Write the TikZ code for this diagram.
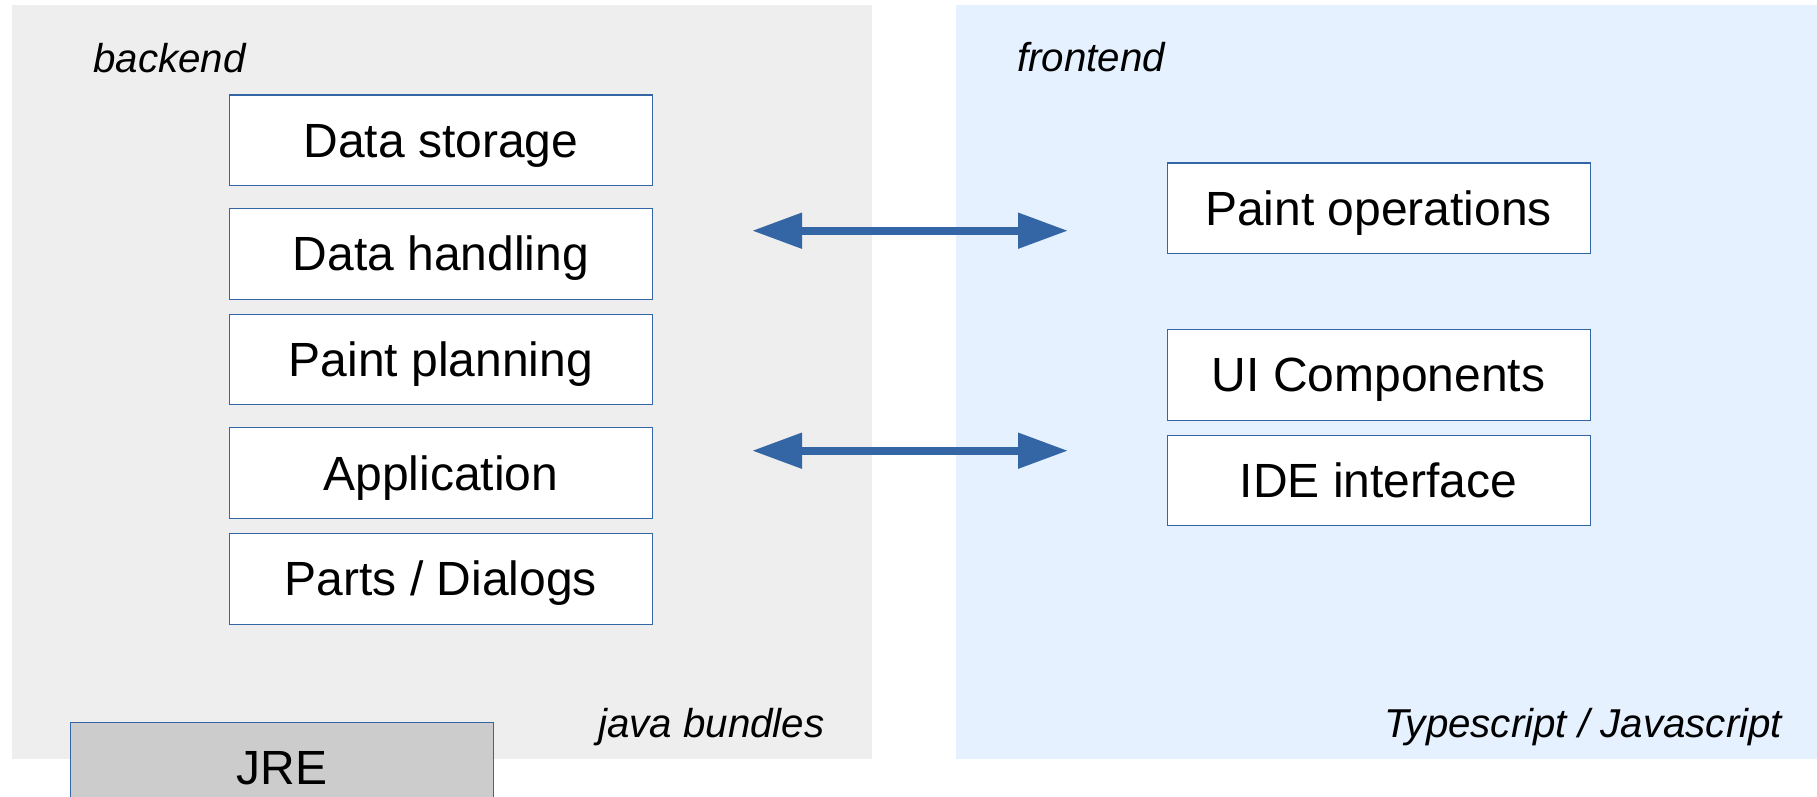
\documentclass[tikz,border=0pt]{standalone}
\usepackage{fontspec}
\setmainfont{Liberation Sans}
\usetikzlibrary{arrows.meta}
\definecolor{backfill}{HTML}{EEEEEE}
\definecolor{frontfill}{HTML}{E5F1FF}
\definecolor{lblue}{HTML}{3465A4}
\definecolor{jregray}{HTML}{CCCCCC}
\tikzset{
  panel/.style={fill=#1, draw=none},
  layerbox/.style={draw=lblue, line width=1.1pt, fill=white, minimum width=423pt, minimum height=90.7pt,
    inner sep=0pt, font=\fontsize{48}{57}\selectfont, text height=34.3pt, text depth=0pt},
  jrebox/.style={layerbox, fill=jregray},
  sidelabel/.style={font=\fontsize{40.3}{48}\selectfont\itshape, inner sep=0pt, anchor=base west},
  dblarrow/.style={draw=lblue, line width=8pt, {Triangle[length=50pt,width=34pt]}-{Triangle[length=50pt,width=34pt]}}
}
\begin{document}
\begin{tikzpicture}[x=1pt,y=-1pt]
\useasboundingbox (0,0) rectangle (1817,796);
\fill[white] (0,0) rectangle (1817,796);
% panels
\path[panel=backfill] (11.6,4.7) rectangle (872,759);
\path[panel=frontfill] (956,4.7) rectangle (1817,759);
% side labels
\node[sidelabel] (lbback) at (93,72) {backend};
\node[sidelabel] (lbfront) at (1017,71) {frontend};
\node[sidelabel] (lbjava) at (598,737) {java bundles};
\node[sidelabel] (lbts) at (1384,737) {Typescript / Javascript};
% backend boxes
\node[layerbox] (ds) at (441,140.3) {Data storage};
\node[layerbox] (dh) at (441,253.7) {Data handling};
\node[layerbox] (pp) at (441,359.5) {Paint planning};
\node[layerbox] (app) at (441,473) {Application};
\node[layerbox] (pd) at (441,578.8) {Parts / Dialogs};
\node[jrebox] (jre) at (282,767.5) {JRE};
% frontend boxes
\node[layerbox] (po) at (1378.6,208.3) {Paint operations};
\node[layerbox] (ui) at (1378.6,374.7) {UI Components};
\node[layerbox] (ide) at (1378.6,480.5) {IDE interface};
% arrows
\coordinate (a1l) at (752,230.7);
\coordinate (a1r) at (1068,230.7);
\coordinate (a2l) at (752,450.7);
\coordinate (a2r) at (1068,450.7);
\draw[dblarrow] (a1l) -- (a1r);
\draw[dblarrow] (a2l) -- (a2r);
\end{tikzpicture}
\end{document}
